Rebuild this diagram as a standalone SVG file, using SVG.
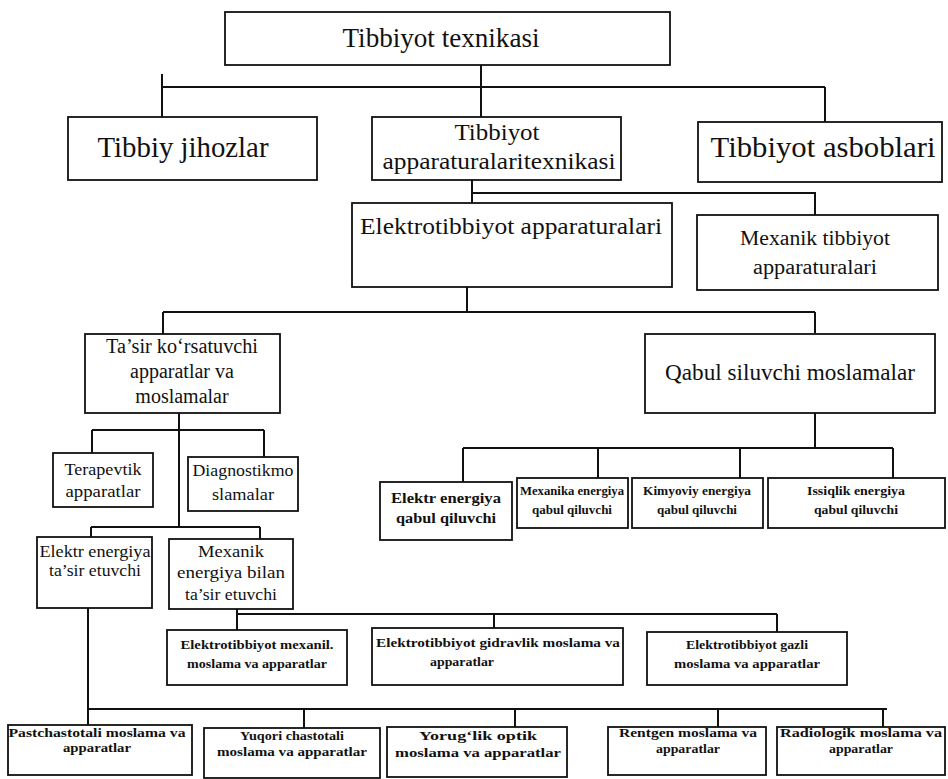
<svg xmlns="http://www.w3.org/2000/svg" width="948" height="779" viewBox="0 0 948 779">
<style>
.bg{fill:#ffffff}
.box{fill:#ffffff;stroke:#111;stroke-width:1.8}
.ln{fill:none;stroke:#111;stroke-width:2}
text{font-family:"Liberation Serif","DejaVu Serif","Times New Roman",serif;fill:#111;text-anchor:middle}
.t27{font-size:27px}
.t30{font-size:30px}
.t23{font-size:23px}
.t20{font-size:20px}
.t17{font-size:17px}
.t15{font-size:15px;font-weight:bold}
.t13{font-size:13px;font-weight:bold}
</style>
<rect class="bg" x="0" y="0" width="948" height="779"/>
<g id="connectors">
<path class="ln" d="M481 65V87M162 74V117M162 87H825M481 87V117M825 87V122"/>
<path class="ln" d="M472 180V203M472 193H815V215"/>
<path class="ln" d="M467 287V312M163 312H815M163 312V334M815 312V333"/>
<path class="ln" d="M179 413V527M92 430H264M92 430V453M264 430V457M91 527H260M91 527V537M260 527V539"/>
<path class="ln" d="M815 413V448M463 448H893M463 448V482M598 448V478M740 448V478M893 448V478"/>
<path class="ln" d="M237 609V630M237 614H777M494 614V628M777 614V632"/>
<path class="ln" d="M88 608V725M88 709H887M304 709V728M515 709V727M718 709V727M883 709V727"/>
</g>
<g id="nodes" font-family="Liberation Serif, DejaVu Serif, serif">
<g id="n-title"><rect class="box" x="225" y="12" width="445" height="53"/><text class="t27" x="441" y="47" textLength="197" lengthAdjust="spacingAndGlyphs">Tibbiyot texnikasi</text></g>
<g id="n-jihozlar"><rect class="box" x="68" y="117" width="249" height="63"/><text class="t30" x="183" y="157" textLength="171" lengthAdjust="spacingAndGlyphs">Tibbiy jihozlar</text></g>
<g id="n-apparatura"><rect class="box" x="372" y="117" width="249" height="63"/><text class="t23" x="497" y="140" textLength="85" lengthAdjust="spacingAndGlyphs">Tibbiyot</text><text class="t23" x="499" y="169" textLength="233" lengthAdjust="spacingAndGlyphs">apparaturalaritexnikasi</text></g>
<g id="n-asboblar"><rect class="box" x="698" y="122" width="244" height="60"/><text class="t30" x="823" y="157" textLength="225" lengthAdjust="spacingAndGlyphs">Tibbiyot asboblari</text></g>
<g id="n-elektro"><rect class="box" x="352" y="203" width="320" height="84"/><text class="t23" x="511" y="234" textLength="302" lengthAdjust="spacingAndGlyphs">Elektrotibbiyot apparaturalari</text></g>
<g id="n-mexanik"><rect class="box" x="697" y="215" width="241" height="75"/><text class="t20" x="815" y="245" textLength="150" lengthAdjust="spacingAndGlyphs">Mexanik tibbiyot</text><text class="t20" x="815" y="274" textLength="124" lengthAdjust="spacingAndGlyphs">apparaturalari</text></g>
<g id="n-tasir"><rect class="box" x="85" y="334" width="195" height="79"/><text class="t20" x="182" y="353" textLength="152" lengthAdjust="spacingAndGlyphs">Ta’sir ko‘rsatuvchi</text><text class="t20" x="182" y="378">apparatlar va</text><text class="t20" x="182" y="403">moslamalar</text></g>
<g id="n-qabul"><rect class="box" x="645" y="334" width="290" height="79"/><text class="t23" x="790" y="380" textLength="250" lengthAdjust="spacingAndGlyphs">Qabul siluvchi moslamalar</text></g>
<g id="n-terapevtik"><rect class="box" x="53" y="453" width="100" height="54"/><text class="t17" x="103" y="475" textLength="77" lengthAdjust="spacingAndGlyphs">Terapevtik</text><text class="t17" x="103" y="497" textLength="75" lengthAdjust="spacingAndGlyphs">apparatlar</text></g>
<g id="n-diagnostik"><rect class="box" x="188" y="457" width="110" height="54"/><text class="t17" x="243" y="476" textLength="101" lengthAdjust="spacingAndGlyphs">Diagnostikmo</text><text class="t17" x="243" y="500" textLength="62" lengthAdjust="spacingAndGlyphs">slamalar</text></g>
<g id="n-elektr-tasir"><rect class="box" x="37" y="537" width="115" height="71"/><text class="t17" x="95" y="557" textLength="111" lengthAdjust="spacingAndGlyphs">Elektr energiya</text><text class="t17" x="95" y="576" textLength="92" lengthAdjust="spacingAndGlyphs">ta’sir etuvchi</text></g>
<g id="n-mexanik-tasir"><rect class="box" x="169" y="539" width="124" height="70"/><text class="t17" x="231" y="557" textLength="66" lengthAdjust="spacingAndGlyphs">Mexanik</text><text class="t17" x="231" y="578" textLength="108" lengthAdjust="spacingAndGlyphs">energiya bilan</text><text class="t17" x="231" y="600" textLength="92" lengthAdjust="spacingAndGlyphs">ta’sir etuvchi</text></g>
<g id="n-q-elektr"><rect class="box" x="380" y="482" width="132" height="58"/><text class="t15" x="446" y="503" textLength="110" lengthAdjust="spacingAndGlyphs">Elektr energiya</text><text class="t15" x="446" y="523" textLength="100" lengthAdjust="spacingAndGlyphs">qabul qiluvchi</text></g>
<g id="n-q-mexanika"><rect class="box" x="517" y="478" width="111" height="50"/><text class="t13" x="572" y="495" textLength="104" lengthAdjust="spacingAndGlyphs">Mexanika energiya</text><text class="t13" x="572" y="514" textLength="80" lengthAdjust="spacingAndGlyphs">qabul qiluvchi</text></g>
<g id="n-q-kimyoviy"><rect class="box" x="632" y="478" width="131" height="50"/><text class="t13" x="697" y="495" textLength="108" lengthAdjust="spacingAndGlyphs">Kimyoviy energiya</text><text class="t13" x="697" y="514" textLength="80" lengthAdjust="spacingAndGlyphs">qabul qiluvchi</text></g>
<g id="n-q-issiqlik"><rect class="box" x="768" y="478" width="177" height="50"/><text class="t13" x="856" y="495" textLength="98" lengthAdjust="spacingAndGlyphs">Issiqlik energiya</text><text class="t13" x="856" y="514" textLength="84" lengthAdjust="spacingAndGlyphs">qabul qiluvchi</text></g>
<g id="n-mexanil"><rect class="box" x="167" y="630" width="180" height="55"/><text class="t13" x="257" y="649" textLength="153" lengthAdjust="spacingAndGlyphs">Elektrotibbiyot mexanil.</text><text class="t13" x="257" y="668" textLength="140" lengthAdjust="spacingAndGlyphs">moslama va apparatlar</text></g>
<g id="n-gidravlik"><rect class="box" x="372" y="628" width="251" height="57"/><text class="t13" x="498" y="647" textLength="244" lengthAdjust="spacingAndGlyphs">Elektrotibbiyot gidravlik moslama va</text><text class="t13" x="462" y="666" textLength="64" lengthAdjust="spacingAndGlyphs">apparatlar</text></g>
<g id="n-gazli"><rect class="box" x="647" y="632" width="200" height="53"/><text class="t13" x="747" y="649" textLength="122" lengthAdjust="spacingAndGlyphs">Elektrotibbiyot gazli</text><text class="t13" x="747" y="668" textLength="146" lengthAdjust="spacingAndGlyphs">moslama va apparatlar</text></g>
<g id="n-past"><rect class="box" x="8" y="725" width="184" height="50"/><text class="t13" x="97" y="737" textLength="177" lengthAdjust="spacingAndGlyphs">Pastchastotali moslama va</text><text class="t13" x="97" y="752" textLength="68" lengthAdjust="spacingAndGlyphs">apparatlar</text></g>
<g id="n-yuqori"><rect class="box" x="204" y="728" width="176" height="50"/><text class="t13" x="292" y="740" textLength="104" lengthAdjust="spacingAndGlyphs">Yuqori chastotali</text><text class="t13" x="292" y="756" textLength="150" lengthAdjust="spacingAndGlyphs">moslama va apparatlar</text></g>
<g id="n-yorug"><rect class="box" x="387" y="727" width="180" height="50"/><text class="t13" x="478" y="740" textLength="118" lengthAdjust="spacingAndGlyphs">Yorug‘lik optik</text><text class="t13" x="478" y="757" textLength="166" lengthAdjust="spacingAndGlyphs">moslama va apparatlar</text></g>
<g id="n-rentgen"><rect class="box" x="608" y="727" width="158" height="48"/><text class="t13" x="688" y="737" textLength="138" lengthAdjust="spacingAndGlyphs">Rentgen moslama va</text><text class="t13" x="688" y="753" textLength="64" lengthAdjust="spacingAndGlyphs">apparatlar</text></g>
<g id="n-radiologik"><rect class="box" x="777" y="727" width="168" height="48"/><text class="t13" x="861" y="737" textLength="162" lengthAdjust="spacingAndGlyphs">Radiologik moslama va</text><text class="t13" x="861" y="753" textLength="64" lengthAdjust="spacingAndGlyphs">apparatlar</text></g>
</g>
</svg>
